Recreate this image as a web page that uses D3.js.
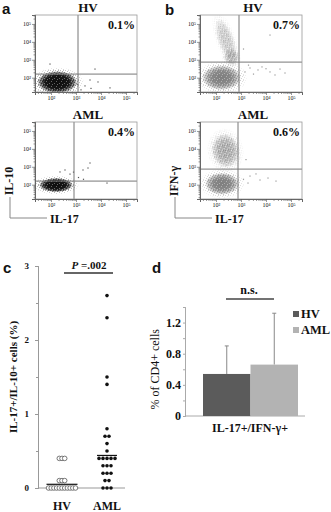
<!DOCTYPE html>
<html><head><meta charset="utf-8">
<script src="https://cdn.jsdelivr.net/npm/d3@7/dist/d3.min.js"></script>
<style>
body{margin:0;background:#fff}
svg{display:block}
text{font-family:"Liberation Serif","Times New Roman",serif;fill:#111}
.plbl{font-family:"Liberation Sans",Arial,sans-serif;font-weight:bold;font-size:15px}
</style></head><body>
<svg id="fig" width="331" height="512"></svg>
<script>
// ---------------- data ----------------
const flowTitles   = ["HV", "AML", "HV", "AML"];
const flowPercents = ["0.1%", "0.4%", "0.7%", "0.6%"];
const flowDecades  = [2, 3, 4, 5];
const flowTickLabels = ["10²", "10³", "10⁴", "10⁵"];
const flowGatesX = [3.08, 2.92, 2.92, 2.88];   // log10 IL-17 gate
const flowGatesY = [2.20, 2.20, 2.87, 2.87];   // log10 IL-10 / IFN-γ gate
// populations: centre and spread in log10 units, tilt, relative density
const cloudsAHV  = [{x:2.25, y:1.75, sx:0.80, sy:0.62, a:0, d:1}];
const cloudsAAML = [{x:2.20, y:1.98, sx:0.68, sy:0.40, a:0, d:1}];
const cloudsBHV  = [{x:2.22, y:2.00, sx:0.78, sy:0.70, a:0, d:1},
                    {x:2.62, y:3.15, sx:0.30, sy:0.45, a:-15, d:0.5},
                    {x:2.40, y:4.10, sx:0.32, sy:1.25, a:-20, d:0.35}];
const cloudsBAML = [{x:2.24, y:2.05, sx:0.68, sy:0.62, a:0, d:1},
                    {x:2.38, y:3.90, sx:0.55, sy:0.95, a:-10, d:0.6}];
// scattered single events [log10 x, log10 y]
const eventsAHV  = [[1.96,2.76],[3.76,2.48],[3.56,1.87],[3.88,1.76],[3.36,1.54],[4.36,1.43],[3.2,1.32],[3.05,1.62],[3.6,1.4]];
const eventsAAML = [[3.56,3.21],[3.28,2.82],[3.48,2.93],[4.24,2.09],[2.36,2.71],[2.56,2.82],[2.76,2.59],[3.1,2.4],[2.9,2.7],[3.3,2.3]];
const eventsBHV  = [[3.36,2.54],[3.68,2.43],[4.16,2.32],[4.56,2.48],[3.84,2.6],[4.76,2.26],[3.16,2.32],[4.36,2.15],[4.16,4.38],[3.5,2.2],[4.0,2.5],[3.3,2.7],[3.1,3.6]];
const eventsBAML = [[3.36,2.48],[3.76,2.26],[3.28,2.09],[4.08,2.37],[3.6,2.6],[3.1,2.3],[4.4,2.2],[3.2,3.4]];

const dotGroups = ["HV", "AML"];
const hvRatio  = [0,0,0,0,0,0,0,0,0,0,0, 0.1,0.1,0.1, 0.4,0.4,0.4];
const amlRatio = [2.6,2.3,1.5,1.4,0.8,0.7,0.7,0.6,0.5,0.4,0.4,0.4,0.4,0.4,0.3,0.3,0.3,0.2,0.2,0.2,0.1,0.1,0,0,0];
const ratioLines = [0.05, 0.44];
const ratioTicks = [0, 1, 2, 3];
const ratioMinor = [0.5, 1.5, 2.5];
const pValue = ".002";

const barGroups = ["HV", "AML"];
const barMeans  = [0.54, 0.66];
const barErrTop = [0.90, 1.32];
const barTicks  = [0, 0.4, 0.8, 1.2];
const barMinor  = [0.2, 0.6, 1.0, 1.4];
const barCategory = "IL-17+/IFN-γ+";
const sigLabel = "n.s.";

// ---------------- drawing ----------------
const svg = d3.select("#fig");
const defs = svg.append("defs");

function radial(id, color, stops) {
  const g = defs.append("radialGradient").attr("id", id);
  stops.forEach(s => g.append("stop").attr("offset", s[0]).attr("stop-color", color).attr("stop-opacity", s[1]));
}
radial("core-dark", "#0d0d0d", [[0,1],[0.6,0.95],[0.85,0.55],[1,0]]);
radial("core-gray", "#7e7e7e", [[0,1],[0.5,0.9],[0.8,0.5],[1,0]]);
const fg = defs.append("radialGradient").attr("id", "fadeG");
[[0,"#fff"],[0.55,"#bbb"],[1,"#000"]].forEach(s => fg.append("stop").attr("offset", s[0]).attr("stop-color", s[1]));
defs.append("mask").attr("id", "fade").attr("maskContentUnits", "objectBoundingBox")
  .append("rect").attr("width", 1).attr("height", 1).attr("fill", "url(#fadeG)");
function speck(id, color, pts) {
  const p = defs.append("pattern").attr("id", id).attr("width", 5).attr("height", 5).attr("patternUnits", "userSpaceOnUse");
  pts.forEach(q => p.append("rect").attr("x", q[0]).attr("y", q[1]).attr("width", 1).attr("height", 1).attr("fill", color));
}
speck("speck-dark", "#333", [[0,0],[2,1],[4,2],[1,3],[3,4],[3,0]]);
speck("speck-gray", "#8a8a8a", [[0,0],[2,1],[4,2],[1,3],[3,4],[3,0]]);
speck("speck-white", "#fff", [[1,1],[4,3],[2,4]]);

const boxW = 102, boxH = 77;
const flowBoxes = [[35,15],[35,122],[200,15],[200,122]];
const flowClouds = [cloudsAHV, cloudsAAML, cloudsBHV, cloudsBAML];
const flowEvents = [eventsAHV, eventsAAML, eventsBHV, eventsBAML];
const flowTone = ["dark","dark","gray","gray"];

flowBoxes.forEach((b, i) => {
  const [L, T] = b;
  const x = d3.scaleLog().domain([10**1.36, 10**5.44]).range([L, L + boxW]);
  const y = d3.scaleLog().domain([10**1.2, 10**5.5]).range([T + boxH, T]);
  const g = svg.append("g");
  const cid = "clip" + i;
  defs.append("clipPath").attr("id", cid).append("rect").attr("x", L).attr("y", T).attr("width", boxW).attr("height", boxH);
  const plot = g.append("g").attr("clip-path", `url(#${cid})`);
  const tone = flowTone[i];
  flowClouds[i].forEach(c => {
    const cx = x(10**c.x), cy = y(10**c.y);
    const rx = x(10**(c.x + c.sx)) - cx, ry = cy - y(10**(c.y + c.sy));
    const e = plot.append("g").attr("transform", `rotate(${c.a},${cx},${cy})`);
    e.append("ellipse").attr("cx", cx).attr("cy", cy).attr("rx", rx*1.35).attr("ry", ry*1.35)
      .attr("fill", `url(#speck-${tone})`).attr("mask", "url(#fade)").attr("opacity", Math.min(1, c.d*1.3));
    e.append("ellipse").attr("cx", cx).attr("cy", cy).attr("rx", rx).attr("ry", ry)
      .attr("fill", `url(#core-${tone})`).attr("opacity", c.d);
    e.append("ellipse").attr("cx", cx).attr("cy", cy).attr("rx", rx).attr("ry", ry)
      .attr("fill", "url(#speck-white)").attr("opacity", c.d < 0.8 ? 0.7 : 0.35);
  });
  plot.selectAll(".ev").data(flowEvents[i]).join("rect")
    .attr("x", d => x(10**d[0]) - 0.6).attr("y", d => y(10**d[1]) - 0.6)
    .attr("width", 1.2).attr("height", 1.2).attr("fill", tone === "dark" ? "#555" : "#999");
  // quadrant gates
  g.append("line").attr("x1", x(10**flowGatesX[i])).attr("x2", x(10**flowGatesX[i])).attr("y1", T).attr("y2", T + boxH)
    .attr("stroke", "#777").attr("stroke-width", 1);
  g.append("line").attr("x1", L).attr("x2", L + boxW).attr("y1", y(10**flowGatesY[i])).attr("y2", y(10**flowGatesY[i]))
    .attr("stroke", "#777").attr("stroke-width", 1);
  // frame
  g.append("rect").attr("x", L).attr("y", T).attr("width", boxW).attr("height", boxH)
    .attr("fill", "none").attr("stroke", "#999").attr("stroke-width", 0.8);
  // axes
  const majors = flowDecades.map(d => 10**d);
  const minors = x.ticks().filter(v => !majors.includes(v));
  const ax = g.append("g").attr("transform", `translate(0,${T + boxH})`);
  ax.call(d3.axisBottom(x).tickValues(minors).tickSize(2).tickFormat(""));
  ax.append("g").call(d3.axisBottom(x).tickValues(majors).tickSize(3).tickPadding(1)
    .tickFormat((d, j) => flowTickLabels[j]));
  const ay = g.append("g").attr("transform", `translate(${L},0)`);
  ay.call(d3.axisLeft(y).tickValues(y.ticks().filter(v => !majors.includes(v))).tickSize(1.5).tickFormat(""));
  ay.append("g").call(d3.axisLeft(y).tickValues(majors).tickSize(3).tickPadding(1)
    .tickFormat((d, j) => flowTickLabels[j]));
  g.selectAll(".domain").attr("stroke", "#666");
  g.selectAll(".tick line").attr("stroke", "#555").attr("stroke-width", 0.6);
  g.selectAll(".tick text").attr("font-size", 6).attr("font-family", "Liberation Serif, serif").attr("fill", "#444");
  // titles & percentages
  g.append("text").attr("x", L + 53).attr("y", T - 3).attr("text-anchor", "middle")
    .attr("font-weight", "bold").attr("font-size", 13).text(flowTitles[i]);
  g.append("text").attr("x", L + boxW - 2).attr("y", T + 14).attr("text-anchor", "end")
    .attr("font-weight", "bold").attr("font-size", 12).text(flowPercents[i]);
});

// axis name brackets for flow panels
[[0, "IL-10"], [165, "IFN-γ"]].forEach(([dx, name]) => {
  const g = svg.append("g").attr("transform", `translate(${dx},0)`);
  g.append("path").attr("d", "M10,197V218H47").attr("fill", "none").attr("stroke", "#888").attr("stroke-width", 1);
  g.append("text").attr("transform", "translate(13,181) rotate(-90)").attr("text-anchor", "middle")
    .attr("font-weight", "bold").attr("font-size", 12).text(name);
  g.append("text").attr("x", 50).attr("y", 223).attr("font-weight", "bold").attr("font-size", 12).text("IL-17");
});

svg.append("text").attr("class", "plbl").attr("x", 2).attr("y", 14).text("a");
svg.append("text").attr("class", "plbl").attr("x", 165).attr("y", 15).text("b");
svg.append("text").attr("class", "plbl").attr("x", 3).attr("y", 273).text("c");
svg.append("text").attr("class", "plbl").attr("x", 152).attr("y", 273).text("d");

// ---------------- panel c ----------------
{
  const y = d3.scaleLinear().domain([0, 3]).range([488, 266]);
  const x = d3.scalePoint().domain(dotGroups).range([62, 107]);
  const g = svg.append("g");
  const ay = g.append("g").attr("transform", "translate(38,0)");
  ay.call(d3.axisLeft(y).tickValues(ratioMinor).tickSize(2).tickFormat(""));
  ay.append("g").call(d3.axisLeft(y).tickValues(ratioTicks).tickSize(3).tickPadding(6).tickFormat(d3.format("d")));
  ay.selectAll(".domain").attr("stroke", "#999");
  ay.selectAll(".tick line").attr("stroke", "#999");
  ay.selectAll(".tick text").attr("font-size", 9).attr("font-weight", "bold").attr("font-family", "Liberation Serif, serif").attr("fill", "#111");
  g.append("line").attr("x1", 38).attr("x2", 125).attr("y1", y(0)).attr("y2", y(0)).attr("stroke", "#999");
  dotGroups.forEach(c => g.append("text").attr("x", x(c)).attr("y", 510).attr("text-anchor", "middle")
    .attr("font-weight", "bold").attr("font-size", 12).text(c));
  function layout(vals, sp) {
    const grp = d3.group(vals, v => v);
    const out = [];
    grp.forEach((arr, v) => arr.forEach((_, k) => out.push({v, off: (k - (arr.length - 1) / 2) * sp})));
    return out;
  }
  g.selectAll(".hv").data(layout(hvRatio, 2.7)).join("circle")
    .attr("cx", d => x("HV") + d.off).attr("cy", d => y(d.v)).attr("r", 2.3)
    .attr("fill", "#fff").attr("stroke", "#444").attr("stroke-width", 0.7);
  g.selectAll(".aml").data(layout(amlRatio, 4)).join("circle")
    .attr("cx", d => x("AML") + d.off).attr("cy", d => y(d.v)).attr("r", 1.8).attr("fill", "#111");
  [[x("HV"), 15.5], [x("AML"), 10]].forEach(([cx, hw], i) =>
    g.append("line").attr("x1", cx - hw).attr("x2", cx + hw).attr("y1", y(ratioLines[i])).attr("y2", y(ratioLines[i]))
      .attr("stroke", "#111").attr("stroke-width", 1.2));
  g.append("text").attr("transform", `translate(17,${y(1.5)}) rotate(-90)`).attr("text-anchor", "middle")
    .attr("font-weight", "bold").attr("font-size", 11).text("IL-17+/IL-10+ cells (%)");
  const t = g.append("text").attr("x", 89).attr("y", 269).attr("text-anchor", "middle").attr("font-weight", "bold").attr("font-size", 11);
  t.append("tspan").attr("font-style", "italic").text("P");
  t.append("tspan").text(" =" + pValue);
  g.append("line").attr("x1", 64).attr("x2", 113).attr("y1", 273).attr("y2", 273).attr("stroke", "#333").attr("stroke-width", 1.3);
}

// ---------------- panel d ----------------
{
  const y = d3.scaleLinear().domain([0, 1.4]).range([416, 307]);
  const x = d3.scaleBand().domain(barGroups).range([203, 298]).padding(0);
  const colors = d3.scaleOrdinal().domain(barGroups).range(["#5b5b5b", "#b3b3b3"]);
  const g = svg.append("g");
  const ay = g.append("g").attr("transform", "translate(185,0)");
  ay.call(d3.axisLeft(y).tickValues(barMinor).tickSize(2).tickFormat(""));
  ay.append("g").call(d3.axisLeft(y).tickValues(barTicks).tickSize(2).tickPadding(2).tickFormat(d => d === 0 ? "0" : d3.format(".1f")(d)));
  ay.selectAll(".domain").attr("stroke", "#aaa");
  ay.selectAll(".tick line").attr("stroke", "#aaa");
  ay.selectAll(".tick text").attr("font-size", 12).attr("font-weight", "bold").attr("font-family", "Liberation Serif, serif").attr("fill", "#111");
  g.append("line").attr("x1", 185).attr("x2", 305).attr("y1", y(0)).attr("y2", y(0)).attr("stroke", "#aaa");
  barGroups.forEach((c, i) => {
    const cx = x(c) + x.bandwidth() / 2;
    g.append("line").attr("x1", cx).attr("x2", cx).attr("y1", y(barMeans[i])).attr("y2", y(barErrTop[i])).attr("stroke", "#888").attr("stroke-width", 1);
    g.append("line").attr("x1", cx - 2).attr("x2", cx + 2).attr("y1", y(barErrTop[i])).attr("y2", y(barErrTop[i])).attr("stroke", "#888").attr("stroke-width", 1);
  });
  g.selectAll(".bar").data(barGroups).join("rect")
    .attr("x", d => x(d)).attr("width", x.bandwidth())
    .attr("y", (d, i) => y(barMeans[i])).attr("height", (d, i) => y(0) - y(barMeans[i]))
    .attr("fill", d => colors(d));
  g.append("text").attr("x", 250).attr("y", 432).attr("text-anchor", "middle").attr("font-weight", "bold").attr("font-size", 12).text(barCategory);
  g.append("text").attr("transform", `translate(159,${y(0.6)}) rotate(-90)`).attr("text-anchor", "middle")
    .attr("font-size", 12).text("% of CD4+ cells");
  g.append("text").attr("x", 249).attr("y", 294).attr("text-anchor", "middle").attr("font-weight", "bold").attr("font-size", 12).text(sigLabel);
  g.append("line").attr("x1", 226).attr("x2", 274).attr("y1", 299).attr("y2", 299).attr("stroke", "#444").attr("stroke-width", 1.4);
  barGroups.forEach((c, i) => {
    g.append("rect").attr("x", 293).attr("y", 311 + i * 16).attr("width", 6).attr("height", 6).attr("fill", colors(c));
    g.append("text").attr("x", 301).attr("y", 318 + i * 16).attr("font-weight", "bold").attr("font-size", 12.5).text(c);
  });
}
</script>
</body></html>
